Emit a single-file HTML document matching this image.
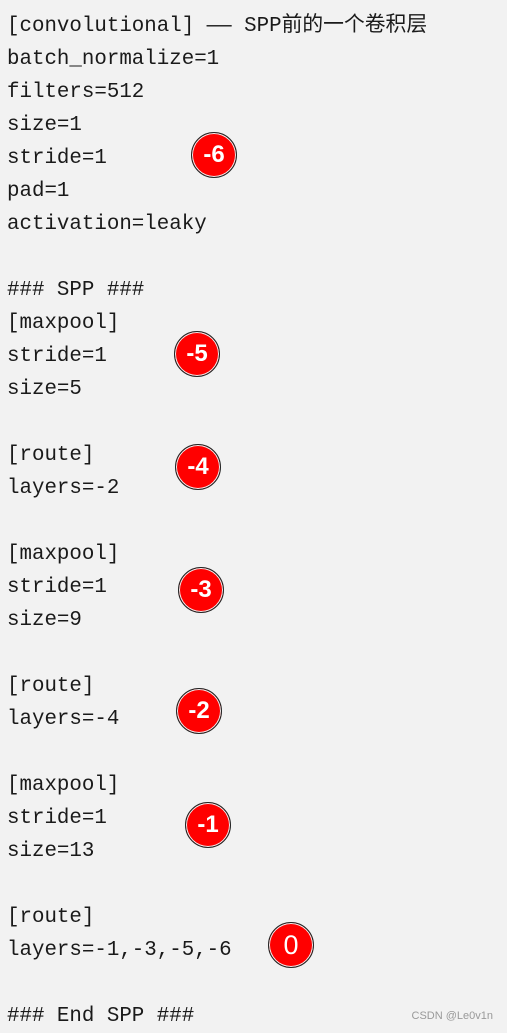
<!DOCTYPE html>
<html><head><meta charset="utf-8"><style>
body{margin:0;width:507px;height:1033px;background:#f2f2f2;position:relative;overflow:hidden}
.l{position:absolute;left:7px;font-family:"Liberation Mono","Noto Sans CJK SC",monospace;font-size:20.8px;color:#1a1a1a;line-height:33px;white-space:pre;margin-top:2px}
.c{position:absolute;width:44px;height:44px;border-radius:50%;background:#f00;border:1px solid #222;box-shadow:0 0 0 1px #f2f2f2 inset;color:#fff;font-family:"Liberation Sans",sans-serif;font-weight:bold;font-size:24px;text-align:center;line-height:44px}
.w{position:absolute;right:14px;top:1010px;font-family:"Liberation Sans",sans-serif;font-size:11px;color:#999}
</style></head><body>
<div class="l" style="top:8px">[convolutional] —— SPP前的一个卷积层</div>
<div class="l" style="top:41px">batch_normalize=1</div>
<div class="l" style="top:74px">filters=512</div>
<div class="l" style="top:107px">size=1</div>
<div class="l" style="top:140px">stride=1</div>
<div class="l" style="top:173px">pad=1</div>
<div class="l" style="top:206px">activation=leaky</div>
<div class="l" style="top:272px">### SPP ###</div>
<div class="l" style="top:305px">[maxpool]</div>
<div class="l" style="top:338px">stride=1</div>
<div class="l" style="top:371px">size=5</div>
<div class="l" style="top:437px">[route]</div>
<div class="l" style="top:470px">layers=-2</div>
<div class="l" style="top:536px">[maxpool]</div>
<div class="l" style="top:569px">stride=1</div>
<div class="l" style="top:602px">size=9</div>
<div class="l" style="top:668px">[route]</div>
<div class="l" style="top:701px">layers=-4</div>
<div class="l" style="top:767px">[maxpool]</div>
<div class="l" style="top:800px">stride=1</div>
<div class="l" style="top:833px">size=13</div>
<div class="l" style="top:899px">[route]</div>
<div class="l" style="top:932px">layers=-1,-3,-5,-6</div>
<div class="l" style="top:998px">### End SPP ###</div>
<div class="c" style="left:191px;top:132px">-6</div>
<div class="c" style="left:174px;top:331px">-5</div>
<div class="c" style="left:175px;top:444px">-4</div>
<div class="c" style="left:178px;top:567px">-3</div>
<div class="c" style="left:176px;top:688px">-2</div>
<div class="c" style="left:185px;top:802px">-1</div>
<div class="c" style="left:268px;top:922px;font-weight:normal;font-size:27px">0</div>
<div class="w">CSDN @Le0v1n</div>
</body></html>
